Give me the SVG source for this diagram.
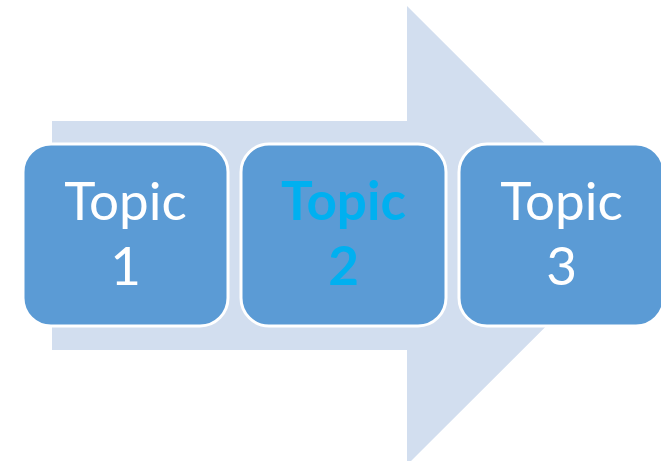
<svg xmlns="http://www.w3.org/2000/svg" width="661" height="461" viewBox="0 0 661 461">
<style>
.box{fill:#5B9BD5;stroke:#FFFFFF;stroke-width:3}
.t{font-family:Lato,"Open Sans","Liberation Sans",sans-serif;font-size:53px;fill:#FFFFFF;text-anchor:middle}
.b{font-weight:bold;fill:#00B0F0}
</style>
<rect width="661" height="461" fill="#FFFFFF"/>
<g id="arrow">
<polygon points="52,121 407,121 407,6 637,235.5 407,465 407,350 52,350" fill="#D2DEEF"/>
</g>
<g id="connectors"></g>
<g id="topic1">
<rect class="box" x="23" y="144" width="205" height="182" rx="28"/>
<text class="t" x="125.5" y="220">Topic</text>
<text class="t" x="125.5" y="285">1</text>
</g>
<g id="topic2">
<rect class="box" x="241" y="144" width="205" height="182" rx="28"/>
<text class="t b" x="343.5" y="220">Topic</text>
<text class="t b" x="343.5" y="285">2</text>
</g>
<g id="topic3">
<rect class="box" x="459" y="144" width="205" height="182" rx="28"/>
<text class="t" x="561.5" y="220">Topic</text>
<text class="t" x="561.5" y="285">3</text>
</g>
</svg>
